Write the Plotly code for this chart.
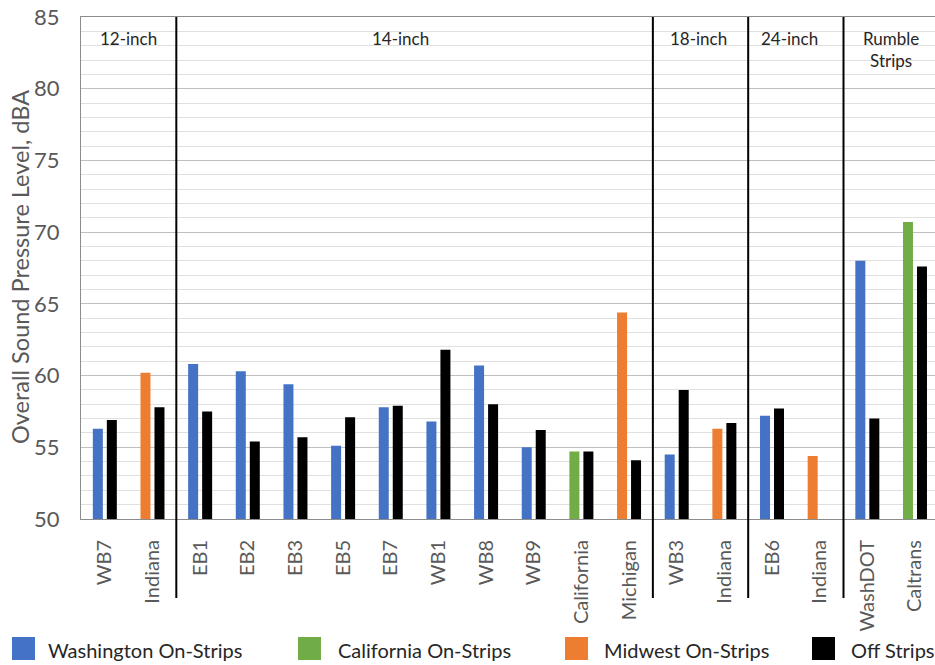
import plotly.graph_objects as go

# Site labels along the x axis (duplicates allowed, so positions are numeric)
site_labels = ["WB7", "Indiana", "EB1", "EB2", "EB3", "EB5", "EB7", "WB1", "WB8",
               "WB9", "California", "Michigan", "WB3", "Indiana", "EB6", "Indiana",
               "WashDOT", "Caltrans"]

# On-strip levels by region (None where the site belongs to another region)
washington_on = [56.3, None, 60.8, 60.3, 59.4, 55.1, 57.8, 56.8, 60.7, 55.0,
                 None, None, 54.5, None, 57.2, None, 68.0, None]
california_on = [None, None, None, None, None, None, None, None, None, None,
                 54.7, None, None, None, None, None, None, 70.7]
midwest_on = [None, 60.2, None, None, None, None, None, None, None, None,
              None, 64.4, None, 56.3, None, 54.4, None, None]
# Off-strip levels
off_strips = [56.9, 57.8, 57.5, 55.4, 55.7, 57.1, 57.9, 61.8, 58.0, 56.2,
              54.7, 54.1, 59.0, 56.7, 57.7, None, 57.0, 67.6]

# Rumble-strip spacing sections: (label, first index, last index, label x)
sections = [("12-inch", 0, 1, 0.5), ("14-inch", 2, 11, 6.2), ("18-inch", 12, 13, 12.45),
            ("24-inch", 14, 15, 14.37), ("Rumble<br>Strips", 16, 17, 16.5)]

series = [("Washington On-Strips", washington_on, "#4472C4", "on"),
          ("California On-Strips", california_on, "#70AD47", "on"),
          ("Midwest On-Strips", midwest_on, "#ED7D31", "on"),
          ("Off Strips", off_strips, "#000000", "off")]

FONT = "Lato"
W, H = 935, 665
ML, MR, MT, MB = 81, 0, 17, 146
PW, PH = W - ML - MR, H - MT - MB
xs = list(range(len(site_labels)))

def px_x(px):
    return (px - ML) / PW

def px_y(py):
    return (MT + PH - py) / PH

fig = go.Figure()
for name, vals, color, grp in series:
    fig.add_trace(go.Bar(x=xs, y=vals, name=name, marker_color=color,
                         marker_line_width=0, offsetgroup=grp, showlegend=False))

shapes = []
annotations = []

# Vertical separators between spacing sections
for _, first, last, _ in sections[:-1]:
    shapes.append(dict(type="line", xref="x", yref="paper", x0=last + 0.5, x1=last + 0.5,
                       y0=px_y(598), y1=1, line=dict(color="black", width=2)))

# Section titles
for label, first, last, lx in sections:
    annotations.append(dict(text=label, xref="x", yref="paper", x=lx, y=px_y(26),
                            xanchor="center", yanchor="top", showarrow=False,
                            font=dict(family=FONT, size=17, color="#262626")))

# Y axis title
annotations.append(dict(text="Overall Sound Pressure Level, dBA", textangle=-90,
                        xref="paper", yref="paper", x=px_x(20), y=px_y(267),
                        xanchor="center", yanchor="middle", showarrow=False,
                        font=dict(family=FONT, size=23.5, color="#595959")))

# Legend row
legend_pos = [(12, 46), (298, 336), (565, 602), (812, 849)]
for (name, _, color, _), (sx, tx) in zip(series, legend_pos):
    shapes.append(dict(type="rect", xref="paper", yref="paper",
                       x0=px_x(sx), x1=px_x(sx + 23), y0=px_y(660), y1=px_y(637),
                       fillcolor=color, line=dict(width=0)))
    annotations.append(dict(text=name, xref="paper", yref="paper", x=px_x(tx), y=px_y(650),
                            xanchor="left", yanchor="middle", showarrow=False,
                            font=dict(family=FONT, size=20, color="#262626")))

fig.update_layout(
    width=W, height=H,
    margin=dict(l=ML, r=MR, t=MT, b=MB, pad=0),
    paper_bgcolor="white", plot_bgcolor="white",
    barmode="group", bargap=0.4126, bargroupgap=0.2857,
    shapes=shapes, annotations=annotations,
    showlegend=False,
    xaxis=dict(range=[-0.5, 17.42], tickmode="array", tickvals=xs, ticktext=site_labels,
               tickangle=-90, ticks="", ticklabelstandoff=12,
               tickfont=dict(family=FONT, size=20, color="#595959"),
               showgrid=False, zeroline=False, showline=True, mirror=True,
               linecolor="#8c8c8c", linewidth=1),
    yaxis=dict(range=[50, 85], dtick=5, tick0=50, ticks="", ticklabelstandoff=16,
               tickfont=dict(family=FONT, size=22, color="#595959"),
               showgrid=True, gridcolor="#bfbfbf", gridwidth=1,
               minor=dict(dtick=1, showgrid=True, gridcolor="#e0e0e0", gridwidth=1),
               zeroline=False, showline=True, linecolor="#8c8c8c", linewidth=1),
)

fig.write_html("out.html")
